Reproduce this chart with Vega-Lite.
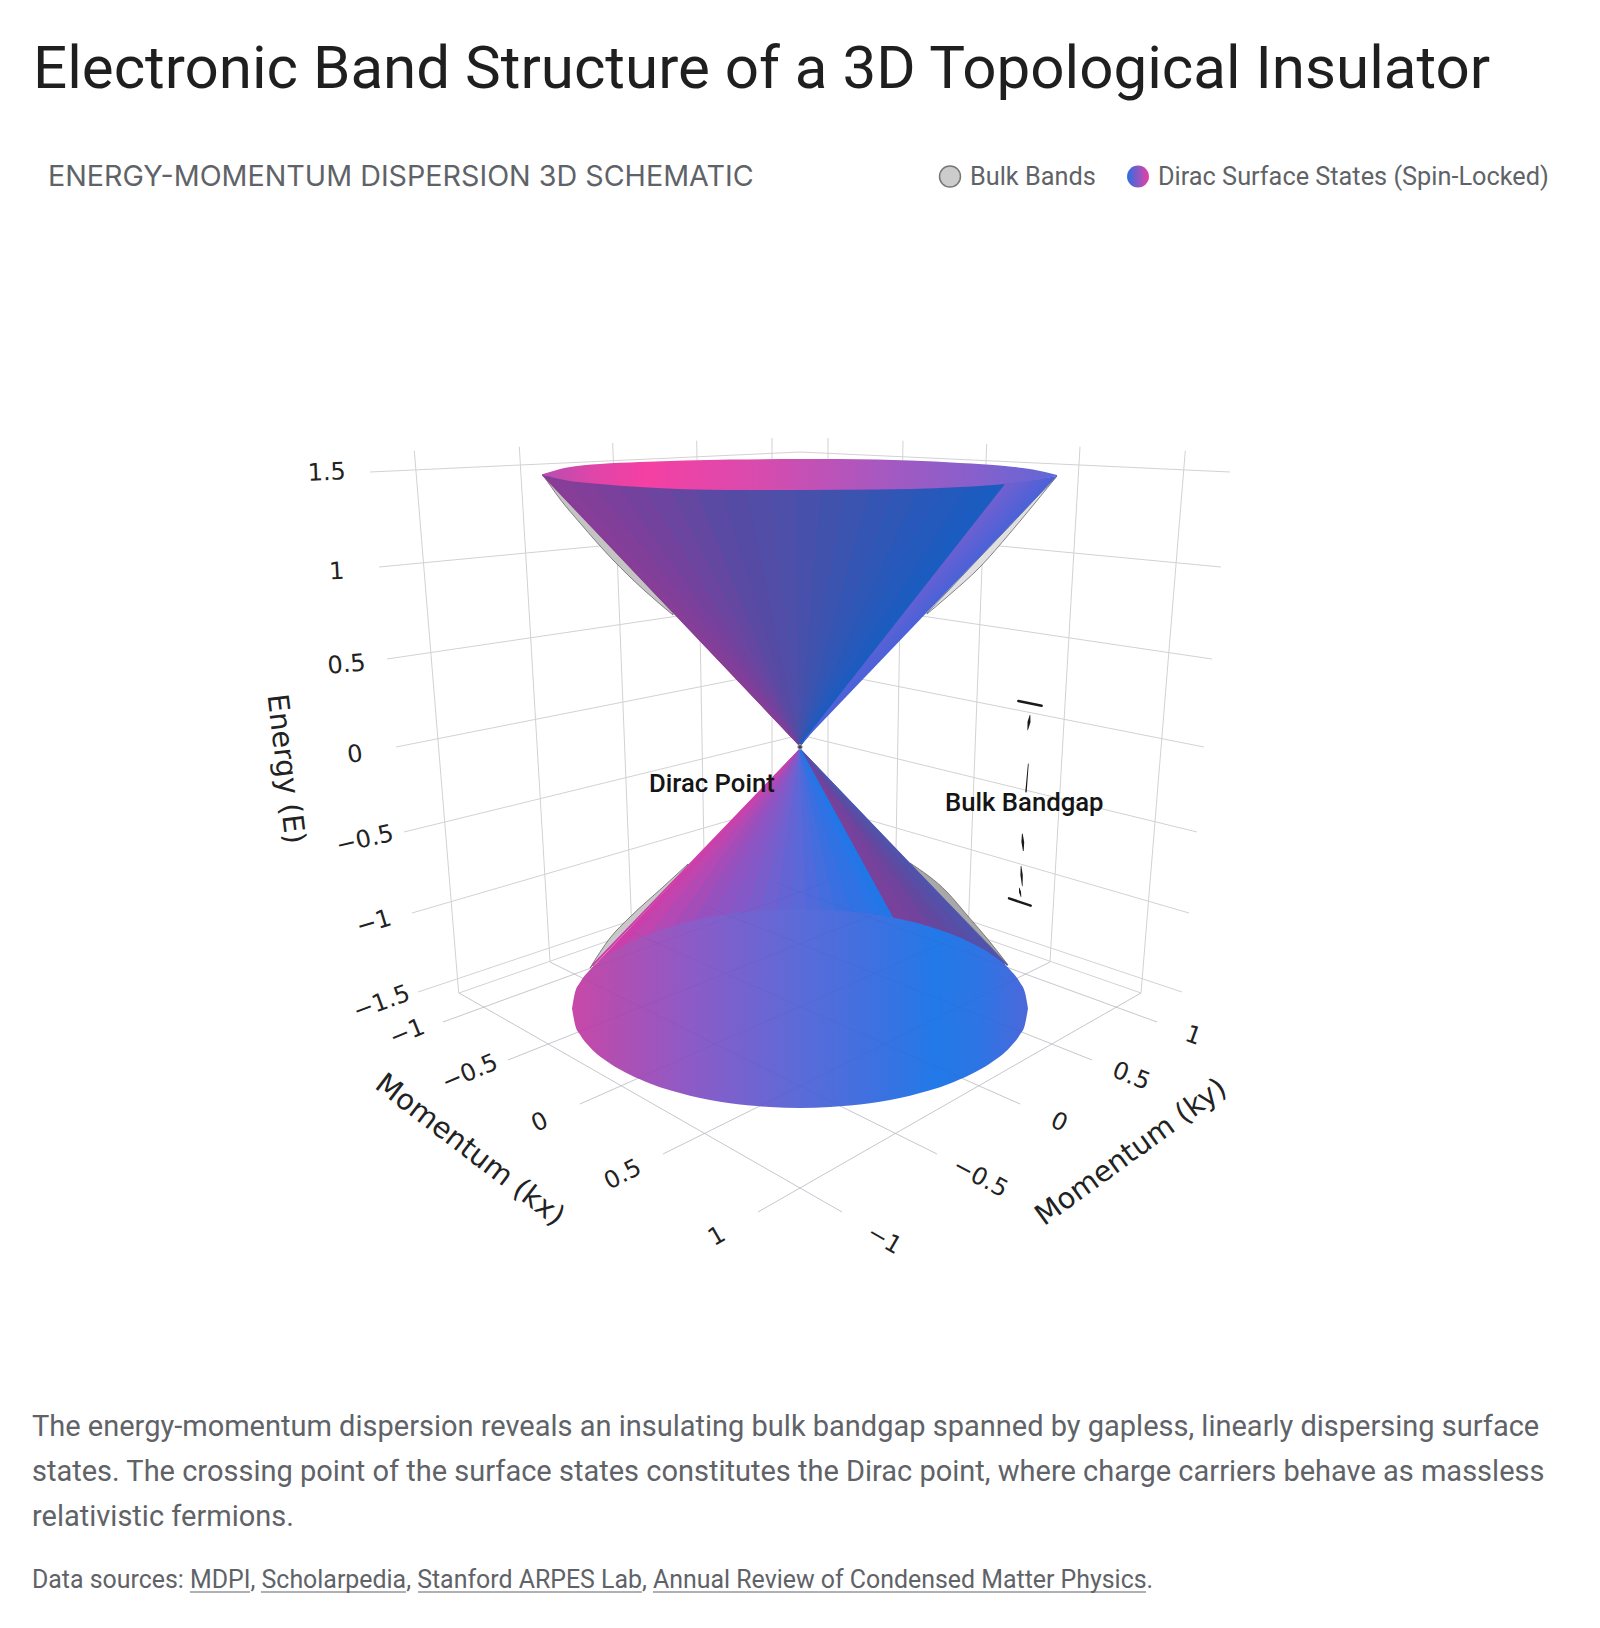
{"$schema":"https://vega.github.io/schema/vega-lite/v6.json","width":1600,"height":1628,"padding":0,"autosize":{"type":"fit","contains":"padding"},"background":"#ffffff","config":{"view":{"stroke":null}},
"encoding":{"x":{"field":"sx","type":"quantitative","scale":{"domain":[0,1600],"nice":false,"zero":false},"axis":null},"y":{"field":"sy","type":"quantitative","scale":{"domain":[1628,0],"nice":false,"zero":false},"axis":null}},
"resolve":{"scale":{"color":"independent"}},
"datasets":{"grid":[
{"g":"e15","sx":370,"sy":472},{"g":"e15","sx":800,"sy":452},{"g":"e15","sx":1230,"sy":472},
{"g":"e1","sx":379,"sy":567},{"g":"e1","sx":800,"sy":527},{"g":"e1","sx":1221,"sy":567},
{"g":"e05","sx":387,"sy":659},{"g":"e05","sx":800,"sy":598},{"g":"e05","sx":1212,"sy":659},
{"g":"e0","sx":396,"sy":747},{"g":"e0","sx":800,"sy":667},{"g":"e0","sx":1204,"sy":747},
{"g":"em05","sx":404,"sy":832},{"g":"em05","sx":800,"sy":735},{"g":"em05","sx":1197,"sy":832},
{"g":"em1","sx":412,"sy":913},{"g":"em1","sx":800,"sy":800},{"g":"em1","sx":1189,"sy":913},
{"g":"em15","sx":418,"sy":992},{"g":"em15","sx":800,"sy":864},{"g":"em15","sx":1182,"sy":992},
{"g":"v1","sx":414.3,"sy":450.7},{"g":"v1","sx":458.7,"sy":993},
{"g":"v2","sx":519.3,"sy":446.7},{"g":"v2","sx":550,"sy":962},
{"g":"v3","sx":612.7,"sy":443},{"g":"v3","sx":632,"sy":934},
{"g":"v4","sx":696.7,"sy":440.7},{"g":"v4","sx":705,"sy":908},
{"g":"v5","sx":772,"sy":438},{"g":"v5","sx":772,"sy":884},
{"g":"v6","sx":828,"sy":438},{"g":"v6","sx":828,"sy":884},
{"g":"v7","sx":903,"sy":440.7},{"g":"v7","sx":895,"sy":908},
{"g":"v8","sx":986.7,"sy":444},{"g":"v8","sx":968,"sy":934},
{"g":"v9","sx":1080,"sy":446.7},{"g":"v9","sx":1050,"sy":962},
{"g":"v10","sx":1185.3,"sy":450.7},{"g":"v10","sx":1141,"sy":993},
{"g":"back","sx":459,"sy":993},{"g":"back","sx":800,"sy":874},{"g":"back","sx":1141,"sy":993}
],"floor":[
{"g":"a1","sx":443,"sy":1022},{"g":"a1","sx":827,"sy":882},
{"g":"a2","sx":508,"sy":1060},{"g":"a2","sx":895,"sy":906},
{"g":"a3","sx":580,"sy":1104},{"g":"a3","sx":968,"sy":932},
{"g":"a4","sx":663,"sy":1154},{"g":"a4","sx":1050,"sy":962},
{"g":"a5","sx":758,"sy":1212},{"g":"a5","sx":1141,"sy":993},
{"g":"b1","sx":1157,"sy":1022},{"g":"b1","sx":773,"sy":882},
{"g":"b2","sx":1092,"sy":1060},{"g":"b2","sx":705,"sy":906},
{"g":"b3","sx":1020,"sy":1104},{"g":"b3","sx":632,"sy":932},
{"g":"b4","sx":937,"sy":1154},{"g":"b4","sx":550,"sy":962},
{"g":"b5","sx":842,"sy":1212},{"g":"b5","sx":459,"sy":993}
]},
"layer":[
{"data":{"name":"grid"},"mark":{"type":"line","stroke":"#d2d2d2","strokeWidth":1},"encoding":{"detail":{"field":"g"}}},
{"data":{"name":"floor"},"mark":{"type":"line","stroke":"#d6d6d6","strokeWidth":1},"encoding":{"detail":{"field":"g"}}},
{"data":{"values":[{"sx":543,"sy":475,"sy2":475},{"sx":560,"sy":493,"sy2":499},{"sx":580,"sy":514,"sy2":523},{"sx":613,"sy":549,"sy2":560},{"sx":645,"sy":583,"sy2":591},{"sx":673,"sy":612.6,"sy2":615}]},"mark":{"type":"area","interpolate":"monotone","fill":"#c4c4c4","stroke":"#666666","strokeWidth":0.8},"encoding":{"y2":{"field":"sy2"}}},
{"data":{"values":[{"sx":927,"sy":613,"sy2":614},{"sx":947,"sy":592,"sy2":597},{"sx":980,"sy":557,"sy2":567},{"sx":1010,"sy":525.6,"sy2":533},{"sx":1035,"sy":499,"sy2":503},{"sx":1057,"sy":476,"sy2":476}]},"mark":{"type":"area","interpolate":"monotone","fill":"#e0e0e0","stroke":"#666666","strokeWidth":0.8},"encoding":{"y2":{"field":"sy2"}}},
{"data":{"values":[{"sx":590,"sy":968,"sy2":968},{"sx":610,"sy":938,"sy2":947},{"sx":630,"sy":917,"sy2":926.5},{"sx":663,"sy":887,"sy2":892},{"sx":688,"sy":864,"sy2":866}]},"mark":{"type":"area","interpolate":"monotone","fill":"#c8c8c8","stroke":"#666666","strokeWidth":0.8},"encoding":{"y2":{"field":"sy2"}}},
{"data":{"values":[{"sx":910,"sy":863,"sy2":863.6},{"sx":947,"sy":892,"sy2":902},{"sx":967,"sy":915,"sy2":922.5},{"sx":990,"sy":942,"sy2":946},{"sx":1008,"sy":965,"sy2":965}]},"mark":{"type":"area","interpolate":"monotone","fill":"#a8a8a8","stroke":"#666666","strokeWidth":0.8},"encoding":{"y2":{"field":"sy2"}}},
{"data":{"values":[{"sx":543,"sy":475,"sy2":475},{"sx":800,"sy":488,"sy2":746}]},"mark":{"type":"area","fill":"#7a409b"},"encoding":{"y2":{"field":"sy2"}}},
{"data":{"values":[
{"ray":1,"k":543,"xs":[800,543],"ys":[746,475],"ws":[0,2]},
{"ray":2,"k":552,"xs":[800,552],"ys":[746,480],"ws":[0,5]},
{"ray":3,"k":565,"xs":[800,565],"ys":[746,484],"ws":[0,18]},
{"ray":4,"k":585,"xs":[800,585],"ys":[746,484],"ws":[0,24]},
{"ray":5,"k":610,"xs":[800,610],"ys":[746,485],"ws":[0,26]},
{"ray":6,"k":635,"xs":[800,635],"ys":[746,486],"ws":[0,28]},
{"ray":7,"k":660,"xs":[800,660],"ys":[746,486],"ws":[0,28]},
{"ray":8,"k":685,"xs":[800,685],"ys":[746,487],"ws":[0,28]},
{"ray":9,"k":710,"xs":[800,710],"ys":[746,487],"ws":[0,28]},
{"ray":10,"k":735,"xs":[800,735],"ys":[746,487],"ws":[0,28]},
{"ray":11,"k":760,"xs":[800,760],"ys":[746,487],"ws":[0,28]},
{"ray":12,"k":785,"xs":[800,785],"ys":[746,487],"ws":[0,28]},
{"ray":13,"k":810,"xs":[800,810],"ys":[746,487],"ws":[0,28]},
{"ray":14,"k":835,"xs":[800,835],"ys":[746,487],"ws":[0,28]},
{"ray":15,"k":860,"xs":[800,860],"ys":[746,487],"ws":[0,28]},
{"ray":16,"k":885,"xs":[800,885],"ys":[746,487],"ws":[0,28]},
{"ray":17,"k":910,"xs":[800,910],"ys":[746,486],"ws":[0,28]},
{"ray":18,"k":935,"xs":[800,935],"ys":[746,486],"ws":[0,28]},
{"ray":19,"k":960,"xs":[800,960],"ys":[746,485],"ws":[0,28]},
{"ray":20,"k":985,"xs":[800,985],"ys":[746,484],"ws":[0,26]},
{"ray":21,"k":1005,"xs":[800,1005],"ys":[746,482],"ws":[0,24]}
]},"transform":[{"flatten":["xs","ys","ws"],"as":["sx","sy","w"]}],"mark":{"type":"trail"},"encoding":{"detail":{"field":"ray"},"size":{"field":"w","type":"quantitative","scale":null},"color":{"field":"k","type":"quantitative","legend":null,"scale":{"interpolate":"rgb","domain":[543,613,713,793,860,927,1005],"range":["#8c3d96","#7a409b","#5a4aa3","#4c4fa8","#3a54b0","#2a58b8","#1a5cc0"]}}}},
{"data":{"values":[{"sx":800,"sy":745,"sy2":745},{"sx":1005,"sy":484,"sy2":530.8},{"sx":1057,"sy":476,"sy2":476}]},"mark":{"type":"area","fill":{"gradient":"linear","x1":0,"y1":0,"x2":1,"y2":1,"stops":[{"offset":0,"color":"#7060d0"},{"offset":0.42,"color":"#7060d0"},{"offset":0.5,"color":"#4a62d8"},{"offset":1,"color":"#4a62d8"}]}},"encoding":{"y2":{"field":"sy2"}}},
{"data":{"values":[{"sx":543,"sy":474,"sy2":475},{"sx":567,"sy":467.5,"sy2":480.5},{"sx":600,"sy":464,"sy2":484},{"sx":640,"sy":462,"sy2":487},{"sx":730,"sy":459.5,"sy2":490},{"sx":800,"sy":459,"sy2":490},{"sx":877,"sy":459.5,"sy2":489.5},{"sx":910,"sy":460.5,"sy2":489},{"sx":960,"sy":463,"sy2":487},{"sx":1005,"sy":466,"sy2":484},{"sx":1033,"sy":469.5,"sy2":480.5},{"sx":1057,"sy":475,"sy2":476}]},"mark":{"type":"area","interpolate":"monotone","fill":{"gradient":"linear","x1":0,"y1":0,"x2":1,"y2":0,"stops":[{"offset":0,"color":"#b84db0"},{"offset":0.1,"color":"#e045a8"},{"offset":0.2,"color":"#f53fa3"},{"offset":0.42,"color":"#d84bae"},{"offset":0.65,"color":"#a858c0"},{"offset":0.85,"color":"#8560cc"},{"offset":1,"color":"#5f68d8"}]}},"encoding":{"y2":{"field":"sy2"}}},
{"data":{"values":[
{"ray":1,"k":915,"xs":[800,915],"ys":[749,965],"ws":[0,24]},
{"ray":2,"k":935,"xs":[800,935],"ys":[749,965],"ws":[0,24]},
{"ray":3,"k":955,"xs":[800,955],"ys":[749,965],"ws":[0,24]},
{"ray":4,"k":975,"xs":[800,975],"ys":[749,965],"ws":[0,24]},
{"ray":5,"k":990,"xs":[800,990],"ys":[749,965],"ws":[0,20]},
{"ray":6,"k":1000,"xs":[800,1000],"ys":[749,965],"ws":[0,10]},
{"ray":7,"k":1007,"xs":[800,1007],"ys":[749,965],"ws":[0,1.5]}
]},"transform":[{"flatten":["xs","ys","ws"],"as":["sx","sy","w"]}],"mark":{"type":"trail"},"encoding":{"detail":{"field":"ray"},"size":{"field":"w","type":"quantitative","scale":null},"color":{"field":"k","type":"quantitative","legend":null,"scale":{"interpolate":"rgb","domain":[920,950,978,1000,1008],"range":["#7c3f9a","#74429c","#62489f","#5252aa","#4c56b5"]}}}},
{"data":{"values":[
{"ray":1,"k":593,"xs":[800,593],"ys":[749,965],"ws":[0,2]},
{"ray":2,"k":603,"xs":[800,603],"ys":[749,965],"ws":[0,12]},
{"ray":3,"k":620,"xs":[800,620],"ys":[749,965],"ws":[0,20]},
{"ray":4,"k":640,"xs":[800,640],"ys":[749,965],"ws":[0,24]},
{"ray":5,"k":660,"xs":[800,660],"ys":[749,965],"ws":[0,24]},
{"ray":6,"k":680,"xs":[800,680],"ys":[749,965],"ws":[0,24]},
{"ray":7,"k":700,"xs":[800,700],"ys":[749,965],"ws":[0,24]},
{"ray":8,"k":720,"xs":[800,720],"ys":[749,965],"ws":[0,24]},
{"ray":9,"k":740,"xs":[800,740],"ys":[749,965],"ws":[0,24]},
{"ray":10,"k":760,"xs":[800,760],"ys":[749,965],"ws":[0,24]},
{"ray":11,"k":780,"xs":[800,780],"ys":[749,965],"ws":[0,24]},
{"ray":12,"k":800,"xs":[800,800],"ys":[749,965],"ws":[0,24]},
{"ray":13,"k":820,"xs":[800,820],"ys":[749,965],"ws":[0,24]},
{"ray":14,"k":840,"xs":[800,840],"ys":[749,965],"ws":[0,24]},
{"ray":15,"k":860,"xs":[800,860],"ys":[749,965],"ws":[0,24]},
{"ray":16,"k":880,"xs":[800,880],"ys":[749,965],"ws":[0,24]},
{"ray":17,"k":900,"xs":[800,900],"ys":[749,965],"ws":[0,14]},
{"ray":18,"k":912,"xs":[800,912],"ys":[749,965],"ws":[0,8]},
{"ray":19,"k":917,"xs":[800,917],"ys":[749,965],"ws":[0,4]}
]},"transform":[{"flatten":["xs","ys","ws"],"as":["sx","sy","w"]}],"mark":{"type":"trail"},"encoding":{"detail":{"field":"ray"},"size":{"field":"w","type":"quantitative","scale":null},"color":{"field":"k","type":"quantitative","legend":null,"scale":{"interpolate":"rgb","domain":[593,619,673,734,800,867,920],"range":["#d03ca8","#c245ae","#9a50bd","#7d5cca","#5b68d8","#3570e2","#1f78e8"]}}}},
{"data":{"values":[{"sx":572,"sy":1008.5,"sy2":1008.5},{"sx":575,"sy":992.6,"sy2":1024.4},{"sx":580,"sy":982.4,"sy2":1034.6},{"sx":590,"sy":969.7,"sy2":1047.3},{"sx":610,"sy":953.5,"sy2":1063.5},{"sx":630,"sy":942.2,"sy2":1074.8},{"sx":650,"sy":933.6,"sy2":1083.4},{"sx":670,"sy":926.7,"sy2":1090.3},{"sx":690,"sy":921.3,"sy2":1095.7},{"sx":710,"sy":917,"sy2":1100},{"sx":730,"sy":913.8,"sy2":1103.2},{"sx":750,"sy":911.4,"sy2":1105.6},{"sx":770,"sy":909.9,"sy2":1107.1},{"sx":800,"sy":909,"sy2":1108},{"sx":830,"sy":909.9,"sy2":1107.1},{"sx":850,"sy":911.4,"sy2":1105.6},{"sx":870,"sy":913.8,"sy2":1103.2},{"sx":890,"sy":917,"sy2":1100},{"sx":910,"sy":921.3,"sy2":1095.7},{"sx":930,"sy":926.7,"sy2":1090.3},{"sx":950,"sy":933.6,"sy2":1083.4},{"sx":970,"sy":942.2,"sy2":1074.8},{"sx":990,"sy":953.5,"sy2":1063.5},{"sx":1010,"sy":969.7,"sy2":1047.3},{"sx":1020,"sy":982.4,"sy2":1034.6},{"sx":1025,"sy":992.6,"sy2":1024.4},{"sx":1028,"sy":1008.5,"sy2":1008.5}]},"mark":{"type":"area","interpolate":"monotone","fill":{"gradient":"linear","x1":0,"y1":0,"x2":1,"y2":0,"stops":[{"offset":0,"color":"#c848a8"},{"offset":0.1,"color":"#b04fb2"},{"offset":0.25,"color":"#8f5ac6"},{"offset":0.5,"color":"#5b6bd8"},{"offset":0.65,"color":"#4070e0"},{"offset":0.8,"color":"#2279e8"},{"offset":0.9,"color":"#2f74e4"},{"offset":1,"color":"#4c68da"}]}},"encoding":{"y2":{"field":"sy2"}}},
{"data":{"name":"floor"},"mark":{"type":"line","stroke":"#5050a0","strokeWidth":1,"opacity":0.1},"encoding":{"detail":{"field":"g"}}},
{"data":{"values":[{"sx":800,"sy":747}]},"mark":{"type":"point","filled":true,"size":22,"fill":"#39424e","stroke":"#b8b8b8","strokeWidth":1,"opacity":1}},
{"data":{"values":[
{"id":1,"xs":[1018.3,1041.7],"ys":[701,705.7],"ws":[2.4,2.4]},
{"id":2,"xs":[1030,1029,1027.7],"ys":[715,722,730],"ws":[0.6,3,0.6]},
{"id":3,"xs":[1028.3,1026],"ys":[764,791.7],"ws":[0.8,1.4]},
{"id":4,"xs":[1022.3,1022.8,1023.3],"ys":[834,842,850.7],"ws":[0.8,2.8,0.8]},
{"id":5,"xs":[1021,1021.6,1022.3],"ys":[866,875,886],"ws":[0.6,2.4,0.6]},
{"id":6,"xs":[1019.3,1020,1021],"ys":[888,892,896.7],"ws":[0.6,2,0.6]},
{"id":7,"xs":[1009,1030.7],"ys":[898.3,905.7],"ws":[2.4,2.4]}
]},"transform":[{"flatten":["xs","ys","ws"],"as":["sx","sy","w"]}],"mark":{"type":"trail","color":"#1a1a1a"},"encoding":{"detail":{"field":"id"},"size":{"field":"w","type":"quantitative","scale":null}}},
{"data":{"values":[{"sx":326.7,"sy":473,"label":"1.5","tilt":-2},{"sx":336.7,"sy":572,"label":"1","tilt":-3},{"sx":346.7,"sy":665,"label":"0.5","tilt":-5},{"sx":355,"sy":755,"label":"0","tilt":-8},{"sx":365,"sy":840,"label":"−0.5","tilt":-13},{"sx":374,"sy":923,"label":"−1","tilt":-17},{"sx":381.7,"sy":1003,"label":"−1.5","tilt":-20},{"sx":407.3,"sy":1033,"label":"−1","tilt":-22},{"sx":470,"sy":1073,"label":"−0.5","tilt":-23},{"sx":540,"sy":1122.7,"label":"0","tilt":-25},{"sx":623,"sy":1175,"label":"0.5","tilt":-27},{"sx":717,"sy":1236.7,"label":"1","tilt":-30},{"sx":1193,"sy":1036,"label":"1","tilt":20},{"sx":1131,"sy":1076.7,"label":"0.5","tilt":22},{"sx":1059,"sy":1122.7,"label":"0","tilt":25},{"sx":980,"sy":1178,"label":"−0.5","tilt":28},{"sx":884,"sy":1240,"label":"−1","tilt":30}]},"mark":{"type":"text","font":"DejaVu Sans","fontSize":24,"color":"#222222","align":"center","baseline":"middle"},"encoding":{"text":{"field":"label"},"angle":{"field":"tilt","type":"quantitative","scale":null}}},
{"data":{"values":[{"sx":285.5,"sy":769,"label":"Energy (E)","tilt":83},{"sx":470,"sy":1150,"label":"Momentum (kx)","tilt":37.5},{"sx":1131,"sy":1152,"label":"Momentum (ky)","tilt":-36}]},"mark":{"type":"text","font":"DejaVu Sans","fontSize":28.8,"color":"#222222","align":"center","baseline":"middle"},"encoding":{"text":{"field":"label"},"angle":{"field":"tilt","type":"quantitative","scale":null}}},
{"data":{"values":[{"sx":649,"sy":792,"label":"Dirac Point"},{"sx":945,"sy":811,"label":"Bulk Bandgap"}]},"mark":{"type":"text","font":"Roboto","fontSize":25.7,"fontWeight":500,"color":"#151515","align":"left","baseline":"alphabetic"},"encoding":{"text":{"field":"label"}}},
{"data":{"values":[{"sx":33,"sy":88,"label":"Electronic Band Structure of a 3D Topological Insulator"}]},"mark":{"type":"text","font":"Roboto","fontSize":60.1,"color":"#1f1f1f","align":"left","baseline":"alphabetic"},"encoding":{"text":{"field":"label"}}},
{"data":{"values":[{"sx":48,"sy":186,"label":"ENERGY-MOMENTUM DISPERSION 3D SCHEMATIC"}]},"mark":{"type":"text","font":"Inter","fontSize":28.7,"color":"#5f6368","align":"left","baseline":"alphabetic"},"encoding":{"text":{"field":"label"}}},
{"data":{"values":[{"sx":970,"sy":185,"label":"Bulk Bands"},{"sx":1158,"sy":185,"label":"Dirac Surface States (Spin-Locked)"}]},"mark":{"type":"text","font":"Roboto","fontSize":25.3,"color":"#5f6368","align":"left","baseline":"alphabetic"},"encoding":{"text":{"field":"label"}}},
{"data":{"values":[{"sx":950,"sy":176.5}]},"mark":{"type":"point","filled":true,"size":440,"fill":"#cccccc","stroke":"#777777","strokeWidth":1.5,"opacity":1}},
{"data":{"values":[{"sx":1138,"sy":176.5}]},"mark":{"type":"point","filled":true,"size":480,"opacity":1,"fill":{"gradient":"linear","x1":0,"y1":0,"x2":1,"y2":0,"stops":[{"offset":0,"color":"#2a70e0"},{"offset":1,"color":"#e83fa6"}]}}},
{"data":{"values":[{"sx":32,"sy":1436,"label":"The energy-momentum dispersion reveals an insulating bulk bandgap spanned by gapless, linearly dispersing surface"},{"sx":32,"sy":1481,"label":"states. The crossing point of the surface states constitutes the Dirac point, where charge carriers behave as massless"},{"sx":32,"sy":1526,"label":"relativistic fermions."}]},"mark":{"type":"text","font":"Roboto","fontSize":29,"color":"#5f6368","align":"left","baseline":"alphabetic"},"encoding":{"text":{"field":"label"}}},
{"data":{"values":[{"sx":32,"sy":1588,"label":"Data sources: MDPI, Scholarpedia, Stanford ARPES Lab, Annual Review of Condensed Matter Physics."}]},"mark":{"type":"text","font":"Roboto","fontSize":24.9,"color":"#5f6368","align":"left","baseline":"alphabetic"},"encoding":{"text":{"field":"label"}}},
{"data":{"values":[{"link":"a","sx":190,"sy":1592},{"link":"a","sx":250,"sy":1592},{"link":"b","sx":261,"sy":1592},{"link":"b","sx":406,"sy":1592},{"link":"c","sx":418,"sy":1592},{"link":"c","sx":642,"sy":1592},{"link":"d","sx":653,"sy":1592},{"link":"d","sx":1146,"sy":1592}]},"mark":{"type":"line","stroke":"#5f6368","strokeWidth":1.2},"encoding":{"detail":{"field":"link"}}}
]}
